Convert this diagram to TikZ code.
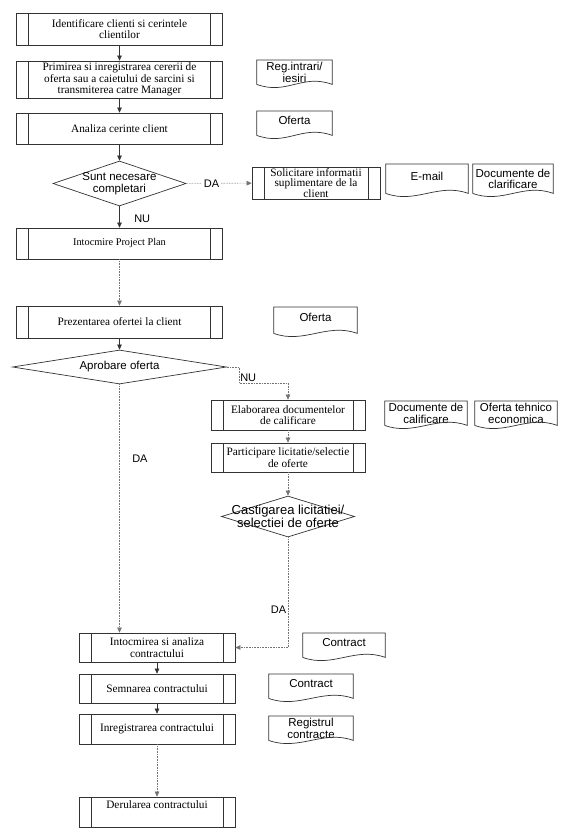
\documentclass[tikz,border=0pt]{standalone}
\usepackage{fontspec}
\setmainfont{Liberation Serif}
\setsansfont{Liberation Sans}
\usetikzlibrary{shapes.geometric, arrows.meta, positioning, calc}

\newcommand{\boxfont}{\fontsize{11.3}{11.5}\selectfont}
\newcommand{\docfont}{\sffamily\fontsize{11.5}{11.5}\selectfont}

\tikzset{
  proc/.style  = {draw=black!80, line width=0.7pt, fill=white, align=center,
                  font=\boxfont, inner sep=1pt,
                  minimum width=206pt, minimum height=31pt,
                  path picture={\draw[black!80, line width=0.7pt]
                    ([xshift=12pt]path picture bounding box.north west) --
                    ([xshift=12pt]path picture bounding box.south west)
                    ([xshift=-12pt]path picture bounding box.north east) --
                    ([xshift=-12pt]path picture bounding box.south east);}},
  doc/.style   = {anchor=north, align=center, font=\docfont,
                  minimum width=80pt, minimum height=24pt,
                  inner xsep=2pt, inner ysep=1pt},
  sdoc/.style  = {doc, text depth=5pt},
  decis/.style = {diamond, draw=black!80, line width=0.7pt, fill=white,
                  align=center, font=\docfont, inner sep=-2pt, aspect=3},
  docline/.style = {draw=black!80, line width=0.7pt},
  arr/.style   = {-{Triangle[length=5pt,width=4.5pt]}, draw=black!80, line width=0.6pt},
  darr/.style  = {arr, densely dotted, draw=black!55},
  lbl/.style   = {font=\sffamily\fontsize{11}{11}\selectfont, inner sep=1.5pt},
}

\begin{document}
\begin{tikzpicture}[x=1pt, y=-1pt]
  \useasboundingbox (0,0) rectangle (562,835);

  % Main column
  \node[proc, minimum height=32pt] (ident) at (119.5,29)
        {Identificare clienti si cerintele\\clientilor};
  \node[proc, minimum height=37pt] (prim) at (119.5,79.5)
        {Primirea si inregistrarea cererii de\\oferta sau a caietului de sarcini si\\transmiterea catre Manager};
  \node[proc] (anl) at (119.5,128.5) {Analiza cerinte client};
  \node[decis, minimum width=133pt, minimum height=45pt] (compl) at (119.5,183.5)
        {Sunt necesare\\completari};
  \node[proc, font=\fontsize{10.3}{11}\selectfont] (plan) at (119.5,243.5)
        {Intocmire Project Plan};
  \node[proc, minimum height=32pt] (prez) at (119.5,322) {Prezentarea ofertei la client};
  \node[decis, minimum width=214pt, minimum height=34pt, aspect=6] (aprob) at (119.5,367)
        {Aprobare oferta};

  % Request for more info
  \node[proc, minimum width=128pt, minimum height=32pt, inner ysep=0pt,
        font=\fontsize{11.3}{10.5}\selectfont] (solic) at (316,183)
        {Solicitare informatii\\suplimentare de la\\client};

  % Tender branch
  \node[proc, minimum width=154pt, minimum height=30pt] (elab) at (288,415)
        {Elaborarea documentelor\\de calificare};
  \node[proc, minimum width=154pt, minimum height=29pt] (partic) at (288,457.5)
        {Participare licitatie/selectie\\de oferte};
  \node[decis, minimum width=133pt, minimum height=41pt, inner sep=-9pt,
        font=\sffamily\fontsize{13}{13}\selectfont] (castig) at (288,516.5)
        {Castigarea licitatiei/\\selectiei de oferte};

  % Contract column
  \node[proc, minimum width=156pt, minimum height=29pt] (intoc) at (157,647.5)
        {Intocmirea si analiza\\contractului};
  \node[proc, minimum width=156pt, minimum height=29pt] (semn) at (157,688.5)
        {Semnarea contractului};
  \node[proc, minimum width=156pt, minimum height=30pt] (inreg) at (157,729)
        {Inregistrarea contractului};
  \node[proc, minimum width=156pt, minimum height=30pt, text depth=14pt] (derul) at (157,812)
        {Derularea contractului};

  % Documents
  \node[doc, minimum width=75pt] (reg) at (294.5,60) {Reg.intrari/\\iesiri};
  \node[sdoc, minimum width=75pt] (of1) at (294.5,111) {Oferta};
  \node[sdoc, minimum width=82pt, minimum height=29pt] (email) at (427,164) {E-mail};
  \node[doc, minimum height=29pt] (docclar) at (513,164) {Documente de\\clarificare};
  \node[sdoc, minimum width=83pt, minimum height=26pt] (of2) at (315.5,307) {Oferta};
  \node[doc, minimum width=82pt] (doccal) at (426,401) {Documente de\\calificare};
  \node[doc, minimum width=82pt] (oftehn) at (516,401) {Oferta tehnico\\economica};
  \node[sdoc, minimum width=82pt] (contr1) at (344,633) {Contract};
  \node[sdoc, minimum width=84pt] (contr2) at (311,674) {Contract};
  \node[doc, minimum width=84pt] (regcon) at (311,716) {Registrul\\contracte};

  \foreach \d in {reg,of1,email,docclar,of2,doccal,oftehn,contr1,contr2,regcon}{
    \draw[docline] (\d.south west) -- (\d.north west) -- (\d.north east) -- (\d.south east)
      .. controls +(-30,-11) and +(30,11) .. (\d.south west);
  }

  % Arrows
  \draw[arr] (ident) -- (prim);
  \draw[arr] (prim) -- (anl);
  \draw[arr] (anl) -- (compl);
  \draw[arr] (compl) -- node[lbl, right=13pt, pos=0.6] {NU} (plan);
  \draw[darr] (compl) -- node[lbl, fill=white, pos=0.39] {DA} (solic);
  \draw[darr] (plan) -- (prez);
  \draw[arr] (prez) -- (aprob);
  \draw[darr] (aprob.south) -- node[lbl, right=11pt, pos=0.3] {DA} (aprob.south |- intoc.north);
  \coordinate (nuturn) at (239,383);
  \draw[darr] (aprob.east) -| (nuturn) node[lbl, above right, inner sep=1pt] {NU} -| (elab.north);
  \draw[darr] (elab) -- (partic);
  \draw[darr] (partic) -- (castig);
  \draw[darr] (castig.south) |- node[lbl, left, pos=0.33] {DA} (intoc.east);
  \draw[arr] (intoc) -- (semn);
  \draw[arr] (semn) -- (inreg);
  \draw[darr] (inreg) -- (derul);
\end{tikzpicture}
\end{document}
